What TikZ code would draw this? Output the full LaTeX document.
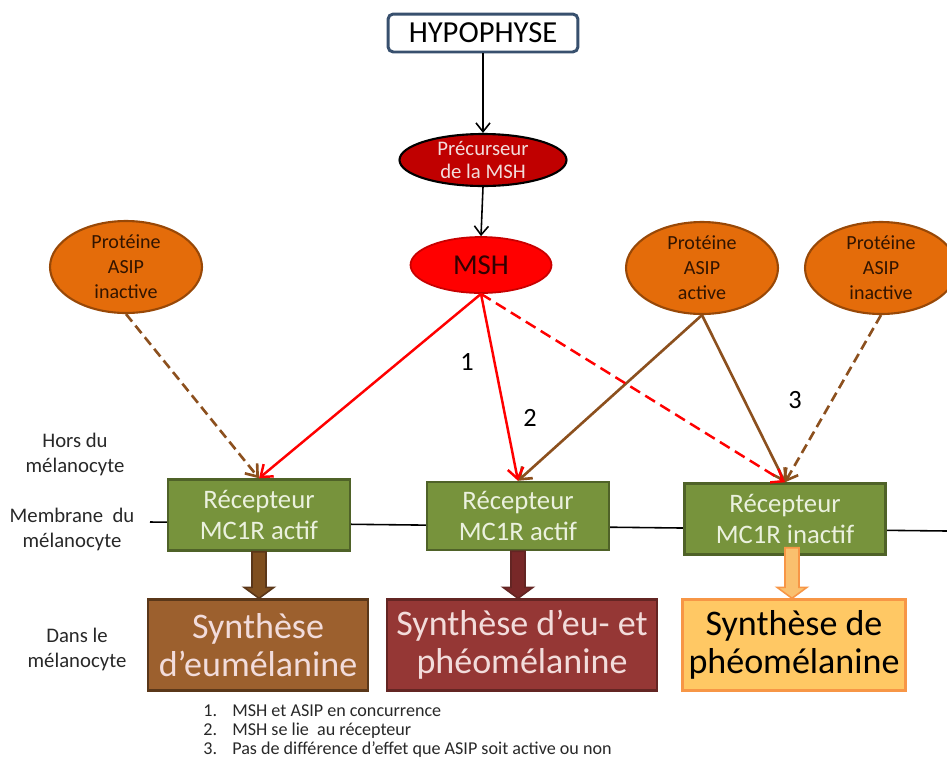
\documentclass[tikz,border=0pt]{standalone}
\usepackage{fontspec}
\setmainfont{Carlito}
\usetikzlibrary{calc}
\usetikzlibrary{shapes.geometric}
\usetikzlibrary{arrows.meta}

% wide arrow from a receptor down to its synthesis box
\newcommand\thickarrow[3]{%
\filldraw[#1, line width=0.9] ($(#2)+(-7,0)$) -- ($(#3)+(-7,-11)$) -- ($(#3)+(-15,-11)$) -- (#3)
  -- ($(#3)+(15,-11)$) -- ($(#3)+(7,-11)$) -- ($(#2)+(7,0)$) -- cycle;}

\begin{document}
\begin{tikzpicture}[x=0.02cm, y=-0.02cm,
  hypo/.style={draw=HypoBlue, line width=1.7, fill=white, rounded corners=3pt,
    minimum width=3.8cm, minimum height=0.76cm, font=\fontsize{17.4}{20}\selectfont},
  precu/.style={ellipse, draw=black, line width=1.2, fill=DarkRed, text=PinkText,
    minimum width=3.34cm, minimum height=1.04cm, inner sep=-1pt, align=center,
    font=\fontsize{11.8}{13.6}\selectfont},
  hormone/.style={ellipse, draw=MshBorder, line width=1, fill=red, text=MshText,
    minimum width=2.82cm, minimum height=1.12cm, font=\fontsize{16.4}{18}\selectfont},
  asip/.style={ellipse, draw=AsipBorder, line width=1.2, fill=AsipOrange, text=AsipText,
    minimum width=3.04cm, minimum height=1.84cm, inner sep=-2pt, align=center,
    font=\fontsize{11.4}{14.2}\selectfont},
  recep/.style={draw=RecepBorder, line width=1.4, fill=RecepGreen, text=RecepText,
    minimum width=3.64cm, minimum height=1.42cm, align=center,
    font=\fontsize{15.2}{18}\selectfont},
  synth/.style={line width=1.4, minimum height=1.82cm, align=center,
    font=\fontsize{20.5}{21.5}\selectfont},
  side/.style={align=center, text=SideGray, font=\fontsize{11.8}{14.2}\selectfont},
  num/.style={font=\fontsize{15}{18}\selectfont},
  blk/.style={-{Straight Barb[length=5pt,width=8pt]}, line width=0.9},
  msharrow/.style={red, line width=1.4, -{Straight Barb[length=6pt,width=9pt]}},
  asiparrow/.style={AsipLine, line width=1.5, -{Straight Barb[length=6pt,width=9pt]}}]
\definecolor{HypoBlue}{RGB}{56,80,110}
\definecolor{DarkRed}{RGB}{192,0,0}
\definecolor{PinkText}{RGB}{242,220,219}
\definecolor{MshBorder}{RGB}{200,0,0}
\definecolor{MshText}{RGB}{50,0,0}
\definecolor{AsipOrange}{RGB}{228,108,10}
\definecolor{AsipBorder}{RGB}{152,72,7}
\definecolor{AsipText}{RGB}{50,20,0}
\definecolor{AsipLine}{RGB}{140,80,30}
\definecolor{RecepGreen}{RGB}{119,147,60}
\definecolor{RecepBorder}{RGB}{79,98,40}
\definecolor{RecepText}{RGB}{235,241,222}
\definecolor{EuBrown}{RGB}{156,96,46}
\definecolor{EuBorder}{RGB}{90,55,25}
\definecolor{MixRed}{RGB}{149,55,53}
\definecolor{MixBorder}{RGB}{99,37,35}
\definecolor{PheoYellow}{RGB}{255,200,100}
\definecolor{PheoBorder}{RGB}{247,150,70}
\definecolor{SideGray}{RGB}{40,40,40}

\useasboundingbox (0,0) rectangle (947,762);

\node[hypo] (hypo) at (483,33) {HYPOPHYSE};
\node[precu] (precu) at (483,160) {Précurseur\\de la MSH};
\node[hormone] (msh) at (481,265) {MSH};

\node[asip] (asipL) at (126,267) {Protéine\\ASIP\\inactive};
\node[asip] (asipA) at (702,268) {Protéine\\ASIP\\active};
\node[asip] (asipR) at (881,268) {Protéine\\ASIP\\inactive};

% membrane
\coordinate (memL) at (150,522);
\coordinate (memR) at (947,531);
\draw[line width=0.9] (memL) -- (memR);

\node[recep] (r1) at (259,515) {Récepteur\\MC1R actif};
\node[recep, minimum height=1.36cm] (r2) at (518,516) {Récepteur\\MC1R actif};
\node[recep, minimum width=4.02cm] (r3) at (785,519) {Récepteur\\MC1R inactif};

\node[synth, draw=EuBorder, fill=EuBrown, text=PinkText, minimum width=4.4cm] (s1) at (258,645) {Synthèse\\d’eumélanine};
\node[synth, draw=MixBorder, fill=MixRed, text=PinkText, minimum width=5.4cm] (s2) at (522,645) {Synthèse d’eu- et\\phéomélanine};
\node[synth, draw=PheoBorder, fill=PheoYellow, text=black, minimum width=4.46cm] (s3) at (794,645) {Synthèse de\\phéomélanine};

\draw[blk] (hypo.south) -- (precu.north);
\draw[blk] (precu.south) -- (msh.north);

\draw[asiparrow, dash pattern=on 5.5pt off 3pt] (asipL.south) -- (r1.north);
\draw[asiparrow] (asipA.south) -- (r2.north);
\draw[asiparrow] (asipA.south) -- (r3.north);
\draw[asiparrow, dash pattern=on 5.5pt off 3pt] (asipR.south) -- (r3.north);

\draw[msharrow] (msh.south) -- (r1.north);
\draw[msharrow] (msh.south) -- (r2.north);
\draw[msharrow, dash pattern=on 6.5pt off 3.5pt] (msh.south) -- (r3.north);

\coordinate (t1) at (r1.south |- s1.north);
\coordinate (t2) at (r2.south |- s2.north);
\coordinate (a3) at ($(r3.south)+(7,-8)$);
\coordinate (t3) at (a3 |- s3.north);
\thickarrow{fill={rgb,255:red,127;green,79;blue,31}, draw=EuBorder}{r1.south}{t1}
\thickarrow{fill={rgb,255:red,120;green,40;blue,40}, draw=MixBorder}{r2.south}{t2}
\thickarrow{fill={rgb,255:red,250;green,192;blue,110}, draw=PheoBorder}{a3}{t3}

\node[num] (n1) at (467,362) {1};
\node[num] (n2) at (530,418) {2};
\node[num] (n3) at (795,400) {3};

\node[side] (hors) at (75,454) {Hors du\\mélanocyte};
\node[side] (memb) at (72,529) {Membrane\ \ du\\mélanocyte};
\node[side] (dans) at (77,649) {Dans le\\mélanocyte};

\node[anchor=west, inner sep=0pt, text=SideGray, font=\fontsize{10.3}{10.8}\selectfont] (legende) at (203,732)
 {\begin{tabular}{@{}p{0.58cm}@{}l@{}}
 1. & MSH et ASIP en concurrence\\
 2. & MSH se lie\ \ au récepteur\\
 3. & Pas de différence d’effet que ASIP soit active ou non
 \end{tabular}};
\end{tikzpicture}
\end{document}
